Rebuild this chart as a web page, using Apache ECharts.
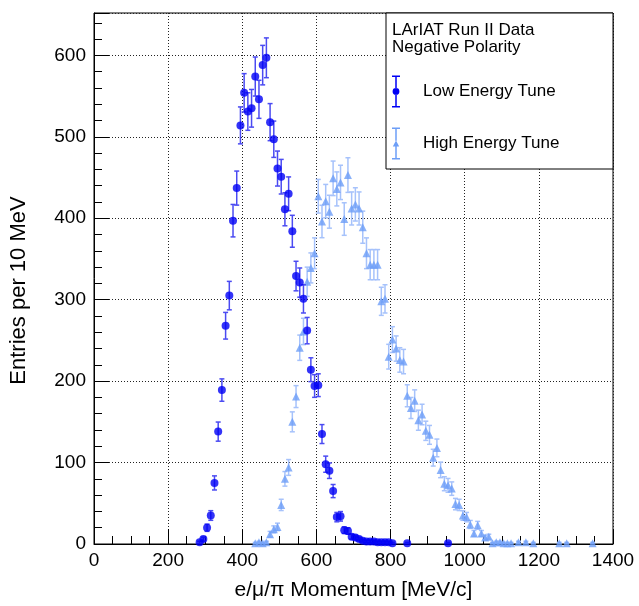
<!DOCTYPE html>
<html><head><meta charset="utf-8">
<script src="https://cdn.jsdelivr.net/npm/echarts@6/dist/echarts.min.js"></script>
<style>html,body{margin:0;padding:0;background:#fff}#c{width:639px;height:606px}</style>
</head><body><div id="c"></div>
<script>
// Low Energy Tune (bin centres in MeV/c, entries per 10 MeV)
const lowX = [285,295,305,315,325,335,345,355,365,375,385,395,405,415,425,435,445,455,465,475,485,495,505,515,525,535,545,555,565,575,585,595,605,615,625,635,645,655,665,675,685,695,705,715,725,735,745,755,765,775,785,795,805,845,955];
const lowY = [2,6,20,35,75,138,189,268,305,397,437,514,554,531,535,574,546,588,597,518,497,461,451,411,430,384,329,321,301,262,214,194,195,135,98,90,65,33,34,17,16,9,8,6,4,3,3,3,2,2,2,2,1,1,1];
// High Energy Tune
const highX = [435,445,455,465,475,485,495,505,515,525,535,545,555,565,575,585,595,605,615,625,635,645,655,665,675,685,695,705,715,725,735,745,755,765,775,785,795,805,815,825,835,845,855,865,875,885,895,905,915,925,935,945,955,965,975,985,995,1005,1015,1025,1035,1045,1055,1065,1075,1085,1095,1105,1115,1125,1145,1165,1185,1255,1275,1345];
const highY = [1,2,1,2,12,18,21,48,80,94,150,181,241,261,322,339,357,427,396,421,408,449,436,444,399,453,412,417,412,389,357,343,343,343,298,301,230,251,240,226,224,182,167,176,152,159,139,134,106,118,91,74,72,68,49,48,35,33,24,13,23,13,8,9,1,2,2,1,1,1,2,2,1,1,1,1];
const xTickLabels = [0,200,400,600,800,1000,1200,1400];
const yTickLabels = [0,100,200,300,400,500,600];
const legendTitle = ['LArIAT Run II Data', 'Negative Polarity'];
const seriesNames = ['Low Energy Tune', 'High Energy Tune'];

const FONT = '"Liberation Sans", Arial, Helvetica, sans-serif';
const lowMarker = '#0000f5', lowBar = '#4b4bf2';
const highMarker = '#6d9ef7', highBar = '#a6c2fb';

function points(xs, ys){ return xs.map((x,i)=>[x, ys[i]]); }
function errs(xs, ys){ return xs.map((x,i)=>[x, Math.max(0, ys[i]-Math.sqrt(ys[i])), ys[i]+Math.sqrt(ys[i])]); }
function errRender(color){
  return function(params, api){
    const x = api.value(0);
    const pLo = api.coord([x, api.value(1)]);
    const pHi = api.coord([x, api.value(2)]);
    const cap = 2.5;
    const style = {stroke: color, lineWidth: 1.5, fill: null};
    return {type:'group', children:[
      {type:'line', shape:{x1:pLo[0], y1:pLo[1], x2:pHi[0], y2:pHi[1]}, style:style},
      {type:'line', shape:{x1:pLo[0]-cap, y1:pLo[1], x2:pLo[0]+cap, y2:pLo[1]}, style:style},
      {type:'line', shape:{x1:pHi[0]-cap, y1:pHi[1], x2:pHi[0]+cap, y2:pHi[1]}, style:style}
    ]};
  };
}
const iconBarCircle = 'path://M0 0H8V1.5H0Z M3.25 0H4.75V12.7H3.25Z M3.25 19.3H4.75V32H3.25Z M0 30.5H8V32H0Z M0.6 16A3.4 3.4 0 1 0 7.4 16A3.4 3.4 0 1 0 0.6 16Z';
const iconBarTri = 'path://M0 0H8V1.5H0Z M3.25 0H4.75V13.2H3.25Z M3.25 18.9H4.75V32H3.25Z M0 30.5H8V32H0Z M0.8 19L4 13L7.2 19Z';

const chart = echarts.init(document.getElementById('c'), null, {renderer:'canvas'});
chart.setOption({
  animation: false,
  backgroundColor: '#fff',
  textStyle: {fontFamily: FONT},
  grid: {left: 91, right: 26, top: 13, bottom: 60, show: true, borderColor: '#000', borderWidth: 1, backgroundColor: 'transparent'},
  xAxis: {
    type: 'value', min: 0, max: 1400, interval: 200,
    name: 'e/\u03bc/\u03c0 Momentum [MeV/c]', nameLocation: 'middle', nameGap: 36,
    nameTextStyle: {fontFamily: FONT, fontSize: 21, color: '#000'},
    axisLine: {show: true, onZero: false, lineStyle: {color: '#000', width: 1}},
    axisTick: {show: true, inside: true, length: 15, lineStyle: {color: '#000'}},
    minorTick: {show: true, splitNumber: 4, length: 8, lineStyle: {color: '#000'}},
    axisLabel: {fontFamily: FONT, fontSize: 19, color: '#000', margin: 7,
      formatter: v => xTickLabels.includes(v) ? String(v) : ''},
    splitLine: {show: true, lineStyle: {color: '#222', type: [1,2], width: 1}}
  },
  yAxis: {
    type: 'value', min: 0, max: 652, interval: 100,
    name: 'Entries per 10 MeV', nameLocation: 'middle', nameGap: 64,
    nameTextStyle: {fontFamily: FONT, fontSize: 22, color: '#000', padding: [0, 24, 0, 0]},
    axisLine: {show: true, onZero: false, lineStyle: {color: '#000', width: 1}},
    axisTick: {show: true, inside: true, length: 15, lineStyle: {color: '#000'}},
    minorTick: {show: true, splitNumber: 5, length: 8, lineStyle: {color: '#000'}},
    axisLabel: {fontFamily: FONT, fontSize: 19, color: '#000', margin: 8, showMaxLabel: false,
      formatter: v => yTickLabels.includes(v) ? String(v) : ''},
    splitLine: {show: true, lineStyle: {color: '#222', type: [1,2], width: 1}}
  },
  legend: {
    orient: 'vertical', left: 392, top: 75.5, padding: 0, itemGap: 20,
    itemWidth: 44, itemHeight: 32, z: 10,
    textStyle: {fontFamily: FONT, fontSize: 17, color: '#000'},
    selectedMode: false,
    data: [
      {name: seriesNames[0], icon: iconBarCircle, itemStyle: {color: lowMarker}},
      {name: seriesNames[1], icon: iconBarTri, itemStyle: {color: highMarker}}
    ]
  },
  graphic: [
    {type: 'rect', z: 5, shape: {x: 386, y: 13, width: 227, height: 156},
      style: {fill: '#fff', stroke: '#000', lineWidth: 1}},
    {type: 'text', z: 6, x: 392, y: 30, style: {text: legendTitle[0], font: '17px ' + FONT, fill: '#000', textVerticalAlign: 'middle'}},
    {type: 'text', z: 6, x: 392, y: 47, style: {text: legendTitle[1], font: '17px ' + FONT, fill: '#000', textVerticalAlign: 'middle'}}
  ],
  series: [
    {name: seriesNames[1], type: 'custom', renderItem: errRender(highBar), data: errs(highX, highY), clip: true, z: 2, encode: {x: 0, y: [1,2]}},
    {name: seriesNames[1], type: 'scatter', symbol: 'triangle', symbolSize: 8, itemStyle: {color: highMarker}, data: points(highX, highY), z: 3},
    {name: seriesNames[0], type: 'custom', renderItem: errRender(lowBar), data: errs(lowX, lowY), clip: true, z: 4, encode: {x: 0, y: [1,2]}},
    {name: seriesNames[0], type: 'scatter', symbol: 'circle', symbolSize: 8, itemStyle: {color: lowMarker}, data: points(lowX, lowY), z: 5}
  ]
});
</script></body></html>
